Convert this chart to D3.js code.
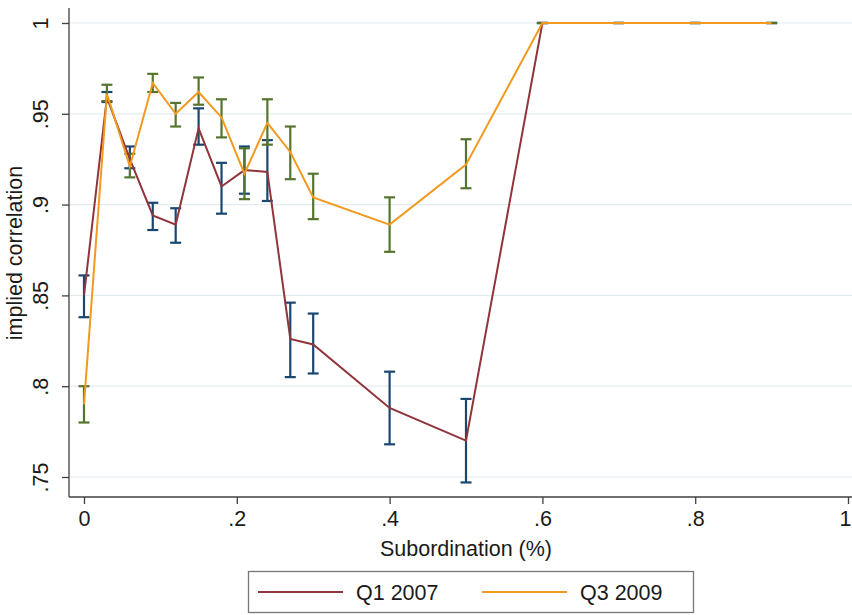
<!DOCTYPE html>
<html>
<head>
<meta charset="utf-8">
<script src="https://cdn.jsdelivr.net/npm/d3@7"></script>
<style>
  html, body { margin: 0; padding: 0; background: #ffffff; }
  svg { display: block; font-family: "Liberation Sans", Arial, Helvetica, sans-serif; }
</style>
</head>
<body>
<svg id="chart" width="852" height="615"></svg>
<script>
// ---- data ----
const subordination = [0, 0.03, 0.06, 0.09, 0.12, 0.15, 0.18, 0.21, 0.24, 0.27, 0.30, 0.40, 0.50, 0.60, 0.70, 0.80, 0.90];

const q1_2007    = [0.850, 0.959, 0.925, 0.894, 0.889, 0.942, 0.910, 0.919, 0.918, 0.826, 0.823, 0.788, 0.770, 1, 1, 1, 1];
const q1_2007_lo = [0.838, 0.9565, 0.920, 0.886, 0.879, 0.933, 0.895, 0.906, 0.902, 0.805, 0.807, 0.768, 0.747, 1, 1, 1, 1];
const q1_2007_hi = [0.861, 0.962, 0.932, 0.901, 0.898, 0.953, 0.923, 0.932, 0.9355, 0.846, 0.840, 0.808, 0.793, 1, 1, 1, 1];

const q3_2009    = [0.790, 0.961, 0.921, 0.967, 0.950, 0.962, 0.948, 0.917, 0.945, 0.929, 0.904, 0.889, 0.922, 1, 1, 1, 1];
const q3_2009_lo = [0.780, 0.957, 0.915, 0.962, 0.943, 0.955, 0.937, 0.903, 0.933, 0.914, 0.892, 0.874, 0.909, 1, 1, 1, 1];
const q3_2009_hi = [0.800, 0.966, 0.928, 0.972, 0.956, 0.970, 0.958, 0.931, 0.958, 0.943, 0.917, 0.904, 0.936, 1, 1, 1, 1];

const xTicks = [0, 0.2, 0.4, 0.6, 0.8, 1];
const xTickLabels = ["0", ".2", ".4", ".6", ".8", "1"];
const yTicks = [0.75, 0.8, 0.85, 0.9, 0.95, 1];
const yTickLabels = [".75", ".8", ".85", ".9", ".95", "1"];

const seriesNames = ["Q1 2007", "Q3 2009"];
const xTitle = "Subordination (%)";
const yTitle = "implied correlation";

// ---- styles ----
const colLine1 = "#90353b";
const colBar1 = "#1a476f";
const colLine2 = "#f19a1f";
const colBar2 = "#55752f";
const gridCol = "#e3ecef";
const axisCol = "#404040";
const textCol = "#1a1a1a";
const fontSize = 21.5;

const svg = d3.select("#chart");

// plot region
const region = { left: 69, top: 8, right: 852, bottom: 497 };
const x = d3.scaleLinear().domain([0, 1]).range([84, 848]);
const y = d3.scaleLinear().domain([0.75, 1]).range([477, 23]);

// gridlines
svg.append("g").selectAll("line").data(yTicks).join("line")
  .attr("x1", region.left).attr("x2", region.right)
  .attr("y1", d => y(d)).attr("y2", d => y(d))
  .attr("stroke", gridCol).attr("stroke-width", 1.2);

// error bars helper
function errBars(lo, hi, color) {
  const g = svg.append("g").attr("stroke", color).attr("stroke-width", 2.2).attr("fill", "none");
  const idx = d3.range(subordination.length);
  const capW = 5.5;
  g.selectAll("line.v").data(idx).join("line").attr("class", "v")
    .attr("x1", i => x(subordination[i])).attr("x2", i => x(subordination[i]))
    .attr("y1", i => y(lo[i])).attr("y2", i => y(hi[i]));
  g.selectAll("line.t").data(idx).join("line").attr("class", "t")
    .attr("x1", i => x(subordination[i]) - capW).attr("x2", i => x(subordination[i]) + capW)
    .attr("y1", i => y(hi[i])).attr("y2", i => y(hi[i]));
  g.selectAll("line.b").data(idx).join("line").attr("class", "b")
    .attr("x1", i => x(subordination[i]) - capW).attr("x2", i => x(subordination[i]) + capW)
    .attr("y1", i => y(lo[i])).attr("y2", i => y(lo[i]));
}

function seriesLine(vals, color) {
  const line = d3.line().x((d, i) => x(subordination[i])).y(d => y(d));
  svg.append("path").datum(vals)
    .attr("d", line).attr("fill", "none")
    .attr("stroke", color).attr("stroke-width", 2)
    .attr("stroke-linejoin", "miter");
}

errBars(q1_2007_lo, q1_2007_hi, colBar1);
errBars(q3_2009_lo, q3_2009_hi, colBar2);
seriesLine(q1_2007, colLine1);
seriesLine(q3_2009, colLine2);

// y axis
const yAxis = d3.axisLeft(y).tickValues(yTicks).tickSize(7).tickFormat((d, i) => yTickLabels[i]);
const yg = svg.append("g").attr("transform", `translate(${region.left},0)`).call(yAxis);
yg.select(".domain").attr("d", `M0,${region.top}V${region.bottom}`).attr("stroke", axisCol).attr("stroke-width", 1.3);
yg.selectAll(".tick line").attr("stroke", axisCol).attr("stroke-width", 1.3);
yg.selectAll(".tick text")
  .attr("x", null).attr("dy", null)
  .attr("transform", "translate(-21,0) rotate(-90)")
  .attr("text-anchor", "middle")
  .attr("fill", textCol).attr("font-size", fontSize)
  .attr("font-family", "Liberation Sans, Arial, sans-serif");

// x axis
const xAxis = d3.axisBottom(x).tickValues(xTicks).tickSize(7).tickFormat((d, i) => xTickLabels[i]);
const xg = svg.append("g").attr("transform", `translate(0,${region.bottom})`).call(xAxis);
xg.select(".domain").attr("d", `M${region.left},0H${region.right}`).attr("stroke", axisCol).attr("stroke-width", 1.3);
xg.selectAll(".tick line").attr("stroke", axisCol).attr("stroke-width", 1.3);
xg.selectAll(".tick text")
  .attr("y", 29).attr("dy", null)
  .attr("fill", textCol).attr("font-size", fontSize)
  .attr("font-family", "Liberation Sans, Arial, sans-serif")
  .attr("text-anchor", (d, i) => i === xTicks.length - 1 ? "end" : "middle")
  .attr("dx", (d, i) => i === xTicks.length - 1 ? 3 : 0);

// axis titles
svg.append("text").text(xTitle)
  .attr("x", (x(0) + x(1)) / 2).attr("y", 556)
  .attr("text-anchor", "middle").attr("font-size", fontSize).attr("fill", textCol);
svg.append("text").text(yTitle)
  .attr("transform", `translate(22,${(y(0.75) + y(1)) / 2 + 3}) rotate(-90)`)
  .attr("text-anchor", "middle").attr("font-size", fontSize).attr("fill", textCol);

// legend
const lg = svg.append("g");
lg.append("rect").attr("x", 248.5).attr("y", 571.5).attr("width", 445).attr("height", 41)
  .attr("fill", "#fff").attr("stroke", "#777").attr("stroke-width", 1.3);
const legendItems = [
  { name: seriesNames[0], color: colLine1, x0: 258 },
  { name: seriesNames[1], color: colLine2, x0: 482 }
];
legendItems.forEach(it => {
  lg.append("line").attr("x1", it.x0).attr("x2", it.x0 + 85).attr("y1", 592).attr("y2", 592)
    .attr("stroke", it.color).attr("stroke-width", 2);
  lg.append("text").text(it.name).attr("x", it.x0 + 98).attr("y", 600)
    .attr("font-size", fontSize).attr("fill", textCol);
});
</script>
</body>
</html>
